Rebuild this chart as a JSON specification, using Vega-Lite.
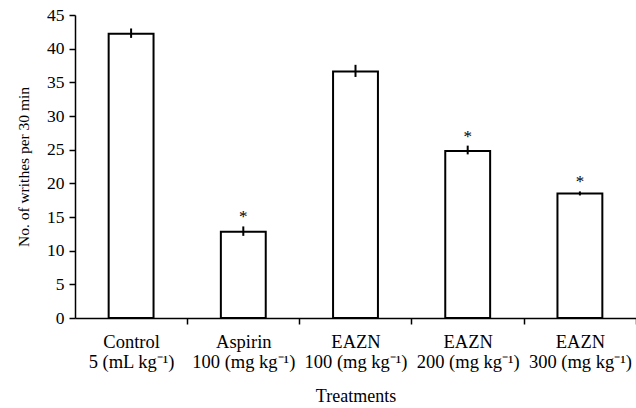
{
  "$schema": "https://vega.github.io/schema/vega-lite/v6.json",
  "width": 561,
  "height": 303,
  "autosize": {"type": "none"},
  "padding": {"left": 75, "top": 15, "right": 0, "bottom": 90},
  "background": "white",
  "config": {
    "font": "Liberation Serif",
    "view": {"stroke": null}
  },
  "data": {
    "values": [
      {"t": "Control|5 (mL kg⁻¹)", "mean": 42.2, "lo": 41.6, "hi": 43.0, "sig": ""},
      {"t": "Aspirin|100 (mg kg⁻¹)", "mean": 12.8, "lo": 12.2, "hi": 13.6, "sig": "*"},
      {"t": "EAZN|100 (mg kg⁻¹)", "mean": 36.6, "lo": 35.8, "hi": 37.6, "sig": ""},
      {"t": "EAZN|200 (mg kg⁻¹)", "mean": 24.8, "lo": 24.3, "hi": 25.6, "sig": "*"},
      {"t": "EAZN|300 (mg kg⁻¹)", "mean": 18.5, "lo": 18.2, "hi": 18.8, "sig": "*"}
    ]
  },
  "encoding": {
    "x": {
      "field": "t",
      "type": "nominal",
      "sort": null,
      "scale": {"paddingInner": 0.6, "paddingOuter": 0.3},
      "axis": {
        "title": "Treatments",
        "labelAngle": 0,
        "labelExpr": "split(datum.label, '|')",
        "labelFont": "Liberation Serif",
        "labelFontSize": 18.5,
        "labelColor": "black",
        "labelLineHeight": 20,
        "labelPadding": 8,
        "labelBaseline": "top",
        "labelOverlap": false,
        "tickOffset": 56,
        "labelOffset": -56,
        "tickSize": 6,
        "tickWidth": 1.5,
        "tickColor": "black",
        "domainColor": "black",
        "domainWidth": 1.5,
        "grid": false,
        "titleFont": "Liberation Serif",
        "titleFontSize": 18,
        "titleFontWeight": "normal",
        "titleColor": "black",
        "titlePadding": 17
      }
    },
    "y": {
      "field": "mean",
      "type": "quantitative",
      "scale": {"domain": [0, 45]},
      "axis": {
        "title": "No. of writhes per 30 min",
        "values": [0, 5, 10, 15, 20, 25, 30, 35, 40, 45],
        "labelFont": "Liberation Serif",
        "labelFontSize": 17.5,
        "labelColor": "black",
        "labelPadding": 5,
        "labelOverlap": false,
        "tickSize": 6,
        "tickWidth": 1.5,
        "tickColor": "black",
        "domainColor": "black",
        "domainWidth": 1.5,
        "grid": false,
        "titleFont": "Liberation Serif",
        "titleFontSize": 15.5,
        "titleFontWeight": "normal",
        "titleColor": "black",
        "titlePadding": 15
      }
    }
  },
  "layer": [
    {
      "mark": {"type": "bar", "fill": "white", "stroke": "black", "strokeWidth": 2}
    },
    {
      "mark": {"type": "rule", "color": "black", "strokeWidth": 2},
      "encoding": {
        "y": {"field": "lo", "type": "quantitative"},
        "y2": {"field": "hi"}
      }
    },
    {
      "mark": {"type": "text", "fontSize": 17, "dy": -9, "fill": "black", "font": "Liberation Serif"},
      "encoding": {
        "y": {"field": "hi", "type": "quantitative"},
        "text": {"field": "sig"}
      }
    }
  ]
}
